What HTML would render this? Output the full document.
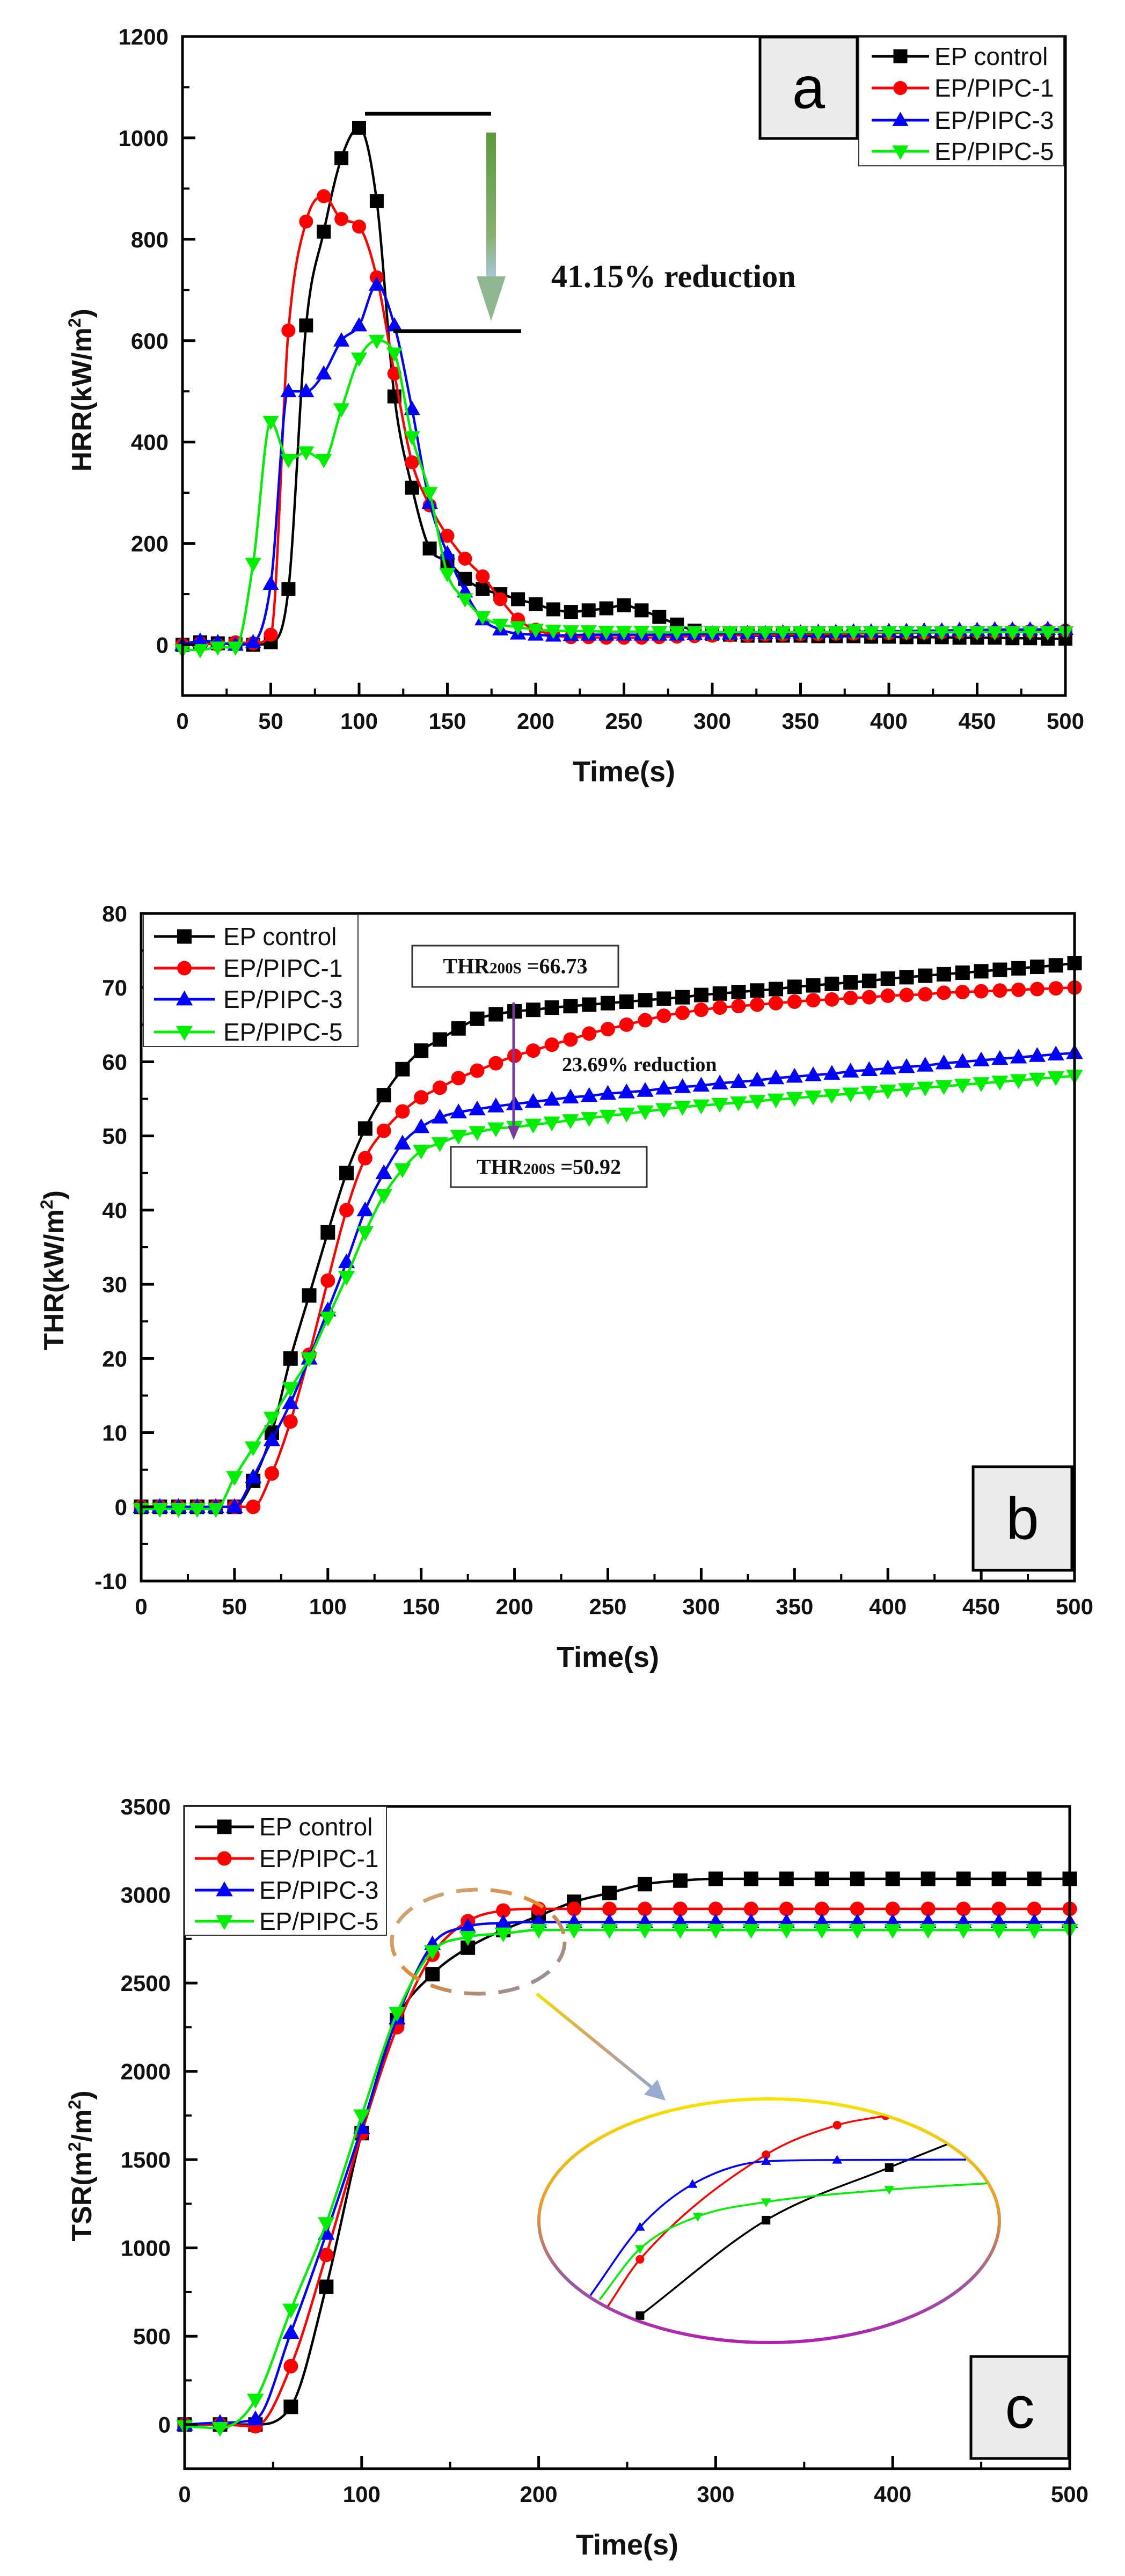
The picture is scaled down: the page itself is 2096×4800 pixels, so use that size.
<!DOCTYPE html>
<html><head><meta charset="utf-8"><title>HRR / THR / TSR</title>
<style>
html,body{margin:0;padding:0;background:#fff;}
svg{display:block;}
text{font-family:"Liberation Sans",Arial,sans-serif;}
</style></head>
<body>
<svg id="fig" width="2096" height="4800" viewBox="0 0 2096 4800" xmlns="http://www.w3.org/2000/svg">
<defs>
<linearGradient id="garrow" x1="0" y1="0" x2="0" y2="1"><stop offset="0" stop-color="#5a9a3a"/><stop offset="0.7" stop-color="#8ab070"/><stop offset="1" stop-color="#a8c8e0"/></linearGradient>
<linearGradient id="gell" x1="0" y1="0" x2="0" y2="1"><stop offset="0" stop-color="#f5e400"/><stop offset="0.45" stop-color="#e89a30"/><stop offset="0.75" stop-color="#9a5aa0"/><stop offset="1" stop-color="#b020b0"/></linearGradient>
<linearGradient id="gdash" x1="0" y1="0" x2="1" y2="1"><stop offset="0" stop-color="#c8b090"/><stop offset="0.5" stop-color="#e08a30"/><stop offset="1" stop-color="#8090c0"/></linearGradient>
<linearGradient id="gpoint" x1="0" y1="0" x2="1" y2="1"><stop offset="0" stop-color="#f0e000"/><stop offset="0.5" stop-color="#d0a070"/><stop offset="1" stop-color="#90a8d0"/></linearGradient>
<clipPath id="insetClip"><ellipse cx="1433" cy="4138" rx="427" ry="225"/></clipPath>
</defs>
</svg>
<script>
// ---------- DATA ----------
const timeA = [0,10,20,30,40,50,60,70,80,90,100,110,120,130,140,150,160,170,180,190,200,210,220,230,240,250,260,270,280,290,300,310,320,330,340,350,360,370,380,390,400,410,420,430,440,450,460,470,480,490,500];
const hrrControl = [0,5,3,2,0,5,110,630,815,960,1020,875,490,310,190,165,130,110,100,90,80,70,65,68,72,78,68,55,40,28,22,20,18,18,18,18,17,17,17,16,16,15,15,15,14,14,14,13,13,12,12];
const hrrP1 = [0,3,0,5,3,20,620,835,885,840,825,725,535,360,275,215,170,135,90,50,30,20,15,15,14,14,14,15,16,17,18,19,19,20,20,21,21,22,22,23,23,24,24,25,25,26,26,27,27,28,28];
const hrrP3 = [0,8,5,0,5,120,500,500,535,600,630,710,630,465,280,180,105,50,30,22,20,18,19,20,20,20,20,20,20,21,22,22,23,23,24,24,25,25,26,26,27,27,28,28,29,29,30,30,30,31,31];
const hrrP5 = [-10,-10,-5,-5,160,440,365,380,365,465,565,600,575,410,300,140,90,55,40,35,30,28,27,27,26,26,26,25,25,25,25,25,25,25,25,25,25,25,25,25,25,25,25,25,25,25,25,25,25,25,25];
const hrrYTicks = [0,200,400,600,800,1000,1200];
const hrrXTicks = [0,50,100,150,200,250,300,350,400,450,500];

const timeB = timeA;
const thrControl = [0,0,0,0,0,0,3.5,10,20,28.5,37,45,51,55.5,59,61.5,63,64.5,65.8,66.4,66.8,67,67.3,67.5,67.7,67.9,68.1,68.3,68.5,68.7,69,69.2,69.4,69.6,69.8,70.1,70.3,70.5,70.7,70.9,71.2,71.4,71.6,71.8,72,72.2,72.4,72.6,72.8,73,73.3];
const thrP1 = [0,0,0,0,0,0,0,4.5,11.5,20.5,30.5,40,47,50.7,53.3,55.2,56.5,57.8,58.8,59.8,60.8,61.5,62.3,63,63.8,64.4,65,65.6,66.2,66.6,67,67.3,67.5,67.7,67.9,68.1,68.3,68.4,68.6,68.7,68.9,69,69.1,69.3,69.4,69.5,69.6,69.7,69.8,69.9,70];
const thrP3 = [0,0,0,0,0,0,4,9,14,20,26.5,33,40,45,49,51.2,52.5,53.2,53.6,54,54.3,54.6,54.9,55.2,55.4,55.7,55.9,56.1,56.4,56.6,56.8,57.1,57.3,57.5,57.8,58,58.2,58.4,58.7,58.9,59.1,59.3,59.5,59.8,60,60.2,60.4,60.6,60.8,61,61.2];
const thrP5 = [-0.3,-0.3,-0.3,-0.3,-0.3,4,8,12,16,20,25.5,31,37,42,45.5,48,49,50,50.5,51,51.2,51.5,51.8,52.1,52.4,52.7,53,53.3,53.6,53.9,54.1,54.3,54.5,54.7,54.9,55.1,55.3,55.5,55.7,55.9,56.1,56.3,56.5,56.7,56.9,57.1,57.3,57.5,57.7,57.9,58.1];
const thrYTicks = [-10,0,10,20,30,40,50,60,70,80];
const thrXTicks = [0,50,100,150,200,250,300,350,400,450,500];

const timeC = [0,20,40,60,80,100,120,140,160,180,200,220,240,260,280,300,320,340,360,380,400,420,440,460,480,500];
const tsrControl = [0,0,0,100,780,1650,2290,2550,2700,2800,2880,2960,3010,3060,3080,3090,3090,3090,3090,3090,3090,3090,3090,3090,3090,3090];
const tsrP1 = [0,0,-10,330,960,1650,2250,2660,2850,2910,2920,2920,2920,2920,2920,2920,2920,2920,2920,2920,2920,2920,2920,2920,2920,2920];
const tsrP3 = [0,10,30,520,1080,1680,2300,2720,2820,2840,2845,2845,2845,2845,2845,2845,2845,2845,2845,2845,2845,2845,2845,2845,2845,2845];
const tsrP5 = [-10,-20,140,650,1140,1750,2330,2680,2760,2780,2800,2800,2800,2800,2800,2800,2800,2800,2800,2800,2800,2800,2800,2800,2800,2800];
const tsrYTicks = [0,500,1000,1500,2000,2500,3000,3500];
const tsrXTicks = [0,100,200,300,400,500];

// inset (magnified view, normalized 0-100 units)
const insetBlackX = [12,42.5,72.3,86.6];
const insetBlackY = [4,50.8,76.6,88.2];
const insetRedX = [4,12,42.5,59.7,71.4];
const insetRedY = [7.9,31.6,82.9,97.4,102];
const insetBlueX = [0,12,24.7,42.5,59.7,90.9];
const insetBlueY = [13.9,47.4,68.4,79.7,80.3,80.5];
const insetGreenX = [2.2,12,25.97,42.5,72.3,96.1];
const insetGreenY = [11.8,36.8,52.6,59.7,65.8,68.9];
const seriesNames = ["EP control","EP/PIPC-1","EP/PIPC-3","EP/PIPC-5"];

// ---------- DRAWING ----------
const NS = "http://www.w3.org/2000/svg";
const svg = document.getElementById("fig");
function el(tag, attrs, parent){
  const e = document.createElementNS(NS, tag);
  for (const k in attrs) e.setAttribute(k, attrs[k]);
  (parent||svg).appendChild(e);
  return e;
}
const COLORS = ["#000000","#ff0000","#0000ff","#00ee00"];
const SHAPES = ["square","circle","tri","itri"];
const SERIF = "font-family:'Liberation Serif','Times New Roman',serif;font-weight:bold;";

function monoPath(xs, ys){
  const n = xs.length;
  if (n < 2) return "";
  const d = [], m = [];
  for (let i=0;i<n-1;i++) d.push((ys[i+1]-ys[i])/(xs[i+1]-xs[i]));
  m[0]=d[0]; m[n-1]=d[n-2];
  for (let i=1;i<n-1;i++){
    if (d[i-1]*d[i] <= 0) m[i]=0; else m[i]=(d[i-1]+d[i])/2;
  }
  for (let i=0;i<n-1;i++){
    if (d[i]===0){ m[i]=0; m[i+1]=0; continue; }
    const a=m[i]/d[i], b=m[i+1]/d[i], s=a*a+b*b;
    if (s>9){ const t=3/Math.sqrt(s); m[i]=t*a*d[i]; m[i+1]=t*b*d[i]; }
  }
  let p = "M"+xs[0].toFixed(1)+","+ys[0].toFixed(1);
  for (let i=0;i<n-1;i++){
    const h = xs[i+1]-xs[i];
    p += " C"+(xs[i]+h/3).toFixed(1)+","+(ys[i]+m[i]*h/3).toFixed(1)+" "+(xs[i+1]-h/3).toFixed(1)+","+(ys[i+1]-m[i+1]*h/3).toFixed(1)+" "+xs[i+1].toFixed(1)+","+ys[i+1].toFixed(1);
  }
  return p;
}

function marker(parent, shape, cx, cy, s, color){
  let e;
  if (shape==="square") e = el("rect",{x:cx-s/2,y:cy-s/2,width:s,height:s,fill:color},parent);
  else if (shape==="circle") e = el("circle",{cx:cx,cy:cy,r:s/2,fill:color},parent);
  else if (shape==="tri") e = el("polygon",{points:`${cx},${cy-s*0.6} ${cx-s*0.58},${cy+s*0.42} ${cx+s*0.58},${cy+s*0.42}`,fill:color},parent);
  else e = el("polygon",{points:`${cx},${cy+s*0.6} ${cx-s*0.58},${cy-s*0.42} ${cx+s*0.58},${cy-s*0.42}`,fill:color},parent);
  return e;
}

function drawChart(g, cfg){
  const sx = v => cfg.left + (v-cfg.xmin)/(cfg.xmax-cfg.xmin)*(cfg.right-cfg.left);
  const sy = v => cfg.bottom - (v-cfg.ymin)/(cfg.ymax-cfg.ymin)*(cfg.bottom-cfg.top);
  cfg.series.forEach((ys, si)=>{
    const sg = el("g",{},g);
    
    
    const px = cfg.xs.map(sx), py = ys.map(sy);
    const path = el("path",{d:monoPath(px,py),fill:"none",stroke:COLORS[si],"stroke-width":4.5},sg);
    
    
    px.forEach((x,i)=>{
      const m = marker(sg, SHAPES[si], x, py[i], cfg.msize, COLORS[si]);
      
      
    });
  });
  const fr = el("rect",{x:cfg.left,y:cfg.top,width:cfg.right-cfg.left,height:cfg.bottom-cfg.top,fill:"none",stroke:"#000","stroke-width":5},g);
  
  
  cfg.yticks.forEach(v=>{
    const y = sy(v);
    el("line",{x1:cfg.left,x2:cfg.left+24,y1:y,y2:y,stroke:"#000","stroke-width":5},g);
    const t = el("text",{x:cfg.left-26,y:y+15,"text-anchor":"end","font-size":42,"font-weight":"bold",fill:"#111"},g);
    t.textContent = v;
    
    
  });
  for (let v=cfg.ymin; v<=cfg.ymax+1e-9; v+=cfg.yminor){
    if (v<=cfg.ymin || v>=cfg.ymax) continue;
    const y = sy(v);
    el("line",{x1:cfg.left,x2:cfg.left+13,y1:y,y2:y,stroke:"#000","stroke-width":4},g);
  }
  cfg.xticks.forEach(v=>{
    const x = sx(v);
    el("line",{x1:x,x2:x,y1:cfg.bottom,y2:cfg.bottom-24,stroke:"#000","stroke-width":5},g);
    const t = el("text",{x:x,y:cfg.bottom+62,"text-anchor":"middle","font-size":42,"font-weight":"bold",fill:"#111"},g);
    t.textContent = v;
    
    
  });
  for (let v=cfg.xmin; v<=cfg.xmax+1e-9; v+=cfg.xminor){
    if (v<=cfg.xmin || v>=cfg.xmax) continue;
    const x = sx(v);
    el("line",{x1:x,x2:x,y1:cfg.bottom,y2:cfg.bottom-13,stroke:"#000","stroke-width":4},g);
  }
  const xt = el("text",{x:(cfg.left+cfg.right)/2,y:cfg.bottom+160,"text-anchor":"middle","font-size":54,"font-weight":"bold",fill:"#111"},g);
  xt.textContent = "Time(s)";
  
  
  const yt = el("text",{x:0,y:0,"text-anchor":"middle","font-size":52,"font-weight":"bold",fill:"#111",transform:`translate(${cfg.ytitleX},${cfg.ytitleY}) rotate(-90)`},g);
  yt.innerHTML = cfg.ytitle;
  
  
  const lg = el("g",{},g);
  
  
  const L = cfg.legend;
  el("rect",{x:L.x,y:L.y,width:L.w,height:L.h,fill:"#fff",stroke:"#333","stroke-width":2},lg);
  seriesNames.forEach((nm,i)=>{
    const yy = L.rows[i];
    const row = el("g",{},lg);
    
    
    el("line",{x1:L.lx1,x2:L.lx2,y1:yy,y2:yy,stroke:COLORS[i],"stroke-width":5},row);
    marker(row, SHAPES[i], (L.lx1+L.lx2)/2, yy, cfg.msize, COLORS[i]);
    const t = el("text",{x:L.tx,y:yy+16,"font-size":46,fill:"#111"},row);
    t.textContent = nm;
  });
  const B = cfg.box;
  const bg = el("g",{},g);
  
  
  el("rect",{x:B.x,y:B.y,width:B.w,height:B.h,fill:"#ececec",stroke:"#000","stroke-width":5},bg);
  const bt = el("text",{x:B.x+B.w/2,y:B.y+B.h/2+38,"text-anchor":"middle","font-size":110,fill:"#000"},bg);
  bt.textContent = B.label;
  return {sx, sy};
}

// ---- Chart a ----
const ga = el("g",{});  
drawChart(ga,{left:340,right:1985,top:68,bottom:1296,xmin:0,xmax:500,ymin:-100,ymax:1200,xminor:25,yminor:100,
  xs:timeA, series:[hrrControl,hrrP1,hrrP3,hrrP5], yticks:hrrYTicks, xticks:hrrXTicks, msize:26,
  ytitle:'HRR(kW/m<tspan font-size="32" dy="-20">2</tspan><tspan dy="20">)</tspan>', ytitleX:170, ytitleY:727,
  legend:{x:1600,y:69,w:382,h:240,rows:[105,164,224,282],lx1:1624,lx2:1731,tx:1741},
  box:{x:1416,y:69,w:181,h:189,label:"a"}});
el("line",{x1:680,x2:915,y1:212,y2:212,stroke:"#000","stroke-width":7},ga);
el("line",{x1:733,x2:971,y1:617,y2:617,stroke:"#000","stroke-width":7},ga);
const arA = el("g",{},ga);  
el("rect",{x:906,y:247,width:18,height:275,fill:"url(#garrow)"},arA);
el("polygon",{points:"888,515 942,515 915,598",fill:"#8fb890"},arA);
const ta = el("text",{x:1027,y:535,"font-size":60,style:SERIF,fill:"#111"},ga);
ta.textContent = "41.15% reduction";
 

// ---- Chart b ----
const gb = el("g",{});  
drawChart(gb,{left:263,right:2002,top:1702,bottom:2946,xmin:0,xmax:500,ymin:-10,ymax:80,xminor:25,yminor:5,
  xs:timeB, series:[thrControl,thrP1,thrP3,thrP5], yticks:thrYTicks, xticks:thrXTicks, msize:27,
  ytitle:'THR(kW/m<tspan font-size="32" dy="-20">2</tspan><tspan dy="20">)</tspan>', ytitleX:118, ytitleY:2367,
  legend:{x:267,y:1704,w:400,h:246,rows:[1745,1804,1862,1923],lx1:287,lx2:400,tx:416},
  box:{x:1813,y:2733,w:184,h:193,label:"b"}});
function annBox(g,x,y,w,h,val){
  const bx = el("g",{},g);
   
  el("rect",{x:x,y:y,width:w,height:h,fill:"#fff",stroke:"#333","stroke-width":3},bx);
  const t = el("text",{x:x+w/2,y:y+h/2+13,"text-anchor":"middle","font-size":40,style:SERIF,fill:"#111"},bx);
  t.innerHTML = 'THR<tspan font-size="29">200S</tspan> =' + val;
}
annBox(gb,768,1762,384,77,"66.73");
annBox(gb,840,2137,365,75,"50.92");
const arB = el("g",{},gb);  
el("line",{x1:957,x2:957,y1:1868,y2:2100,stroke:"#7a3aa0","stroke-width":5},arB);
el("polygon",{points:"946,2098 968,2098 957,2124",fill:"#7a3aa0"},arB);
const tb = el("text",{x:1047,y:1996,"font-size":38,style:SERIF,fill:"#111"},gb);
tb.textContent = "23.69% reduction";
 

// ---- Chart c ----
const gc = el("g",{});  
drawChart(gc,{left:344,right:1993,top:3366,bottom:4600,xmin:0,xmax:500,ymin:-250,ymax:3500,xminor:50,yminor:250,
  xs:timeC, series:[tsrControl,tsrP1,tsrP3,tsrP5], yticks:tsrYTicks, xticks:tsrXTicks, msize:27,
  ytitle:'TSR(m<tspan font-size="32" dy="-20">2</tspan><tspan dy="20">/m</tspan><tspan font-size="32" dy="-20">2</tspan><tspan dy="20">)</tspan>', ytitleX:170, ytitleY:4036,
  legend:{x:344,y:3366,w:376,h:240,rows:[3404,3463,3522,3580],lx1:363,lx2:473,tx:483},
  box:{x:1809,y:4391,w:182,h:190,label:"c"}});
const de = el("ellipse",{cx:891,cy:3618,rx:161,ry:97,fill:"none",stroke:"url(#gdash)","stroke-width":7,"stroke-dasharray":"40 24"},gc);
 
const pa = el("g",{},gc);  
el("line",{x1:1000,y1:3715,x2:1222,y2:3896,stroke:"url(#gpoint)","stroke-width":6},pa);
el("polygon",{points:"1240,3914 1200,3903 1225,3875",fill:"#98acd0"},pa);
const gi = el("g",{});  
el("ellipse",{cx:1433,cy:4138,rx:429,ry:227,fill:"#fff",stroke:"url(#gell)","stroke-width":6},gi);
const isx = v => 1100 + v*7.7, isy = v => 4330 - v*3.8;
const gic = el("g",{"clip-path":"url(#insetClip)"},gi);
[[insetBlackX,insetBlackY],[insetRedX,insetRedY],[insetBlueX,insetBlueY],[insetGreenX,insetGreenY]].forEach((s,si)=>{
  const px = s[0].map(isx), py = s[1].map(isy);
  const p = el("path",{d:monoPath(px,py),fill:"none",stroke:COLORS[si],"stroke-width":3.5},gic);
   
  px.forEach((x,i)=>{
    if (i===0 && si>0) return;
    if (x > 1700) return;
    const m = marker(gic, SHAPES[si], x, py[i], 16, COLORS[si]);
     
  });
});
</script>
</body></html>
